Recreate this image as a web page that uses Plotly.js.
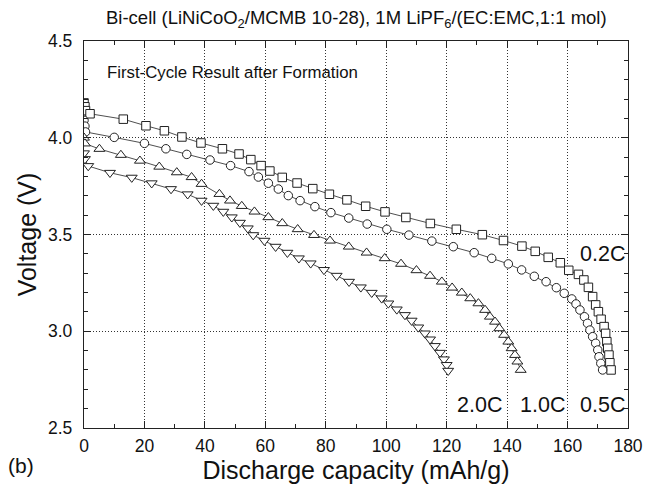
<!DOCTYPE html>
<html>
<head>
<meta charset="utf-8">
<script src="https://cdn.plot.ly/plotly-3.0.1.min.js"></script>
<style>html,body{margin:0;padding:0;background:#fff;}#chart{width:653px;height:490px;}</style>
</head>
<body>
<div id="chart"></div>
<script>
// 0.2C (squares)
const capA = [0, 0.3, 0.5, 2.0, 13.0, 20.5, 26.6, 32.4, 38.7, 45.8, 51.3, 55.2, 58.6, 61.5, 65.6, 70.5, 75.7, 81.2, 87.0, 93.2, 99.6, 106.5, 114.6, 123.2, 131.8, 138.8, 144.9, 149.3, 153.6, 157.6, 160.4, 163.6, 165.4, 166.9, 168.3, 169.3, 170.2, 171.1, 172.1, 172.6, 173.0, 173.3, 173.7, 174.0, 174.4];
const voltA = [4.18, 4.16, 4.14, 4.124, 4.096, 4.062, 4.036, 4.004, 3.973, 3.943, 3.916, 3.887, 3.856, 3.828, 3.795, 3.766, 3.737, 3.708, 3.679, 3.646, 3.617, 3.588, 3.557, 3.527, 3.499, 3.469, 3.440, 3.413, 3.382, 3.354, 3.315, 3.294, 3.265, 3.227, 3.179, 3.136, 3.101, 3.062, 3.024, 2.989, 2.946, 2.912, 2.877, 2.837, 2.800];
// 0.5C (circles)
const capB = [0, 0.3, 0.5, 10.0, 20.0, 27.1, 34.0, 41.7, 48.5, 54.6, 57.7, 61.0, 64.3, 67.6, 71.5, 76.4, 81.7, 87.6, 93.7, 100.2, 107.5, 115.1, 122.2, 129.1, 134.9, 140.4, 144.8, 149.0, 152.9, 156.3, 158.9, 161.4, 162.8, 164.1, 165.6, 166.6, 167.4, 168.3, 169.3, 170.0, 170.4, 171.0, 171.6];
const voltB = [4.09, 4.06, 4.03, 4.002, 3.971, 3.943, 3.914, 3.885, 3.856, 3.825, 3.797, 3.765, 3.735, 3.701, 3.675, 3.644, 3.613, 3.585, 3.554, 3.527, 3.497, 3.466, 3.437, 3.406, 3.377, 3.348, 3.317, 3.284, 3.256, 3.225, 3.196, 3.167, 3.141, 3.110, 3.075, 3.041, 3.006, 2.972, 2.938, 2.903, 2.868, 2.834, 2.800];
// 1.0C (up triangles)
const capC = [0, 0.3, 5.1, 12.2, 18.5, 24.9, 30.7, 35.6, 38.9, 44.8, 48.3, 52.2, 56.4, 61.0, 65.6, 70.7, 76.1, 81.4, 87.6, 93.5, 99.5, 104.9, 110.0, 114.5, 118.4, 121.8, 125.0, 127.8, 130.5, 132.7, 134.3, 136.0, 137.4, 139.0, 140.4, 141.5, 142.6, 143.4, 144.5];
const voltC = [4.00, 3.97, 3.942, 3.911, 3.881, 3.850, 3.821, 3.796, 3.761, 3.709, 3.675, 3.647, 3.618, 3.589, 3.558, 3.527, 3.497, 3.468, 3.437, 3.406, 3.377, 3.348, 3.315, 3.286, 3.256, 3.225, 3.199, 3.170, 3.144, 3.110, 3.075, 3.049, 3.015, 2.981, 2.946, 2.912, 2.877, 2.843, 2.800];
// 2.0C (down triangles)
const capD = [0, 0.3, 1.4, 8.6, 15.8, 22.4, 28.8, 34.3, 38.9, 42.8, 46.1, 48.9, 51.6, 54.2, 56.0, 59.7, 63.4, 67.3, 71.1, 75.0, 79.4, 83.6, 87.7, 91.6, 95.2, 98.5, 100.7, 103.5, 106.2, 108.4, 110.6, 112.8, 114.5, 116.1, 117.8, 119.1, 120.0, 120.5];
const voltD = [3.92, 3.89, 3.854, 3.819, 3.794, 3.765, 3.735, 3.708, 3.675, 3.649, 3.618, 3.589, 3.561, 3.532, 3.497, 3.468, 3.437, 3.406, 3.377, 3.351, 3.317, 3.287, 3.256, 3.227, 3.199, 3.170, 3.144, 3.113, 3.084, 3.055, 3.020, 2.989, 2.958, 2.924, 2.889, 2.855, 2.826, 2.796];

const rateLabels = ['0.2C', '0.5C', '1.0C', '2.0C'];
const xTickVals = [0, 20, 40, 60, 80, 100, 120, 140, 160, 180];
const yTickVals = [2.5, 3.0, 3.5, 4.0, 4.5];

const FONT = 'Liberation Sans, Arial, Helvetica, sans-serif';

function tr(x, y, sym, size, name) {
  return {
    x: x, y: y, name: name, type: 'scatter', mode: 'lines+markers',
    line: {color: '#222', width: 0.8},
    marker: {symbol: sym, size: size, color: '#fff', line: {color: '#222', width: 1}},
    cliponaxis: true
  };
}

const data = [
  tr(capA, voltA, 'square', 8.5, rateLabels[0]),
  tr(capB, voltB, 'circle', 8.5, rateLabels[1]),
  tr(capC, voltC, 'triangle-up', 9.5, rateLabels[2]),
  tr(capD, voltD, 'triangle-down', 9.5, rateLabels[3])
];

const axisCommon = {
  ticks: 'inside', ticklen: 7, tickcolor: '#222', mirror: 'ticks',
  showline: true, linecolor: '#222', linewidth: 1.2,
  showgrid: true, gridcolor: '#333', griddash: '1px,2px', gridwidth: 1,
  zeroline: false,
  tickfont: {size: 17.5, family: FONT},
  automargin: false
};

const layout = {
  width: 653, height: 490,
  margin: {l: 84, r: 25, t: 41, b: 62},
  paper_bgcolor: '#fff', plot_bgcolor: '#fff',
  showlegend: false,
  font: {family: FONT, color: '#111', size: 17},
  xaxis: Object.assign({}, axisCommon, {
    range: [0, 180], tickvals: xTickVals, ticktext: xTickVals.map(String),
    ticklabelstandoff: 2,
    minor: {dtick: 10, ticks: 'inside', ticklen: 4, tickcolor: '#222', showgrid: false},
    title: {text: 'Discharge capacity (mAh/g)', font: {size: 25, family: FONT}, standoff: 2}
  }),
  yaxis: Object.assign({}, axisCommon, {
    range: [2.5, 4.5], tickvals: yTickVals, ticktext: yTickVals.map(v => v.toFixed(1)),
    ticklabelstandoff: 7,
    minor: {dtick: 0.1, ticks: 'inside', ticklen: 4, tickcolor: '#222', showgrid: false},
    title: {text: 'Voltage (V)', font: {size: 25, family: FONT}, standoff: 4}
  }),
  annotations: [
    {xref: 'paper', yref: 'paper', x: 0.5, y: 1, yshift: 22, xanchor: 'center', yanchor: 'middle',
     text: 'Bi-cell (LiNiCoO<sub>2</sub>/MCMB 10-28), 1M LiPF<sub>6</sub>/(EC:EMC,1:1 mol)',
     showarrow: false, font: {size: 18.5, family: FONT}},
    {xref: 'x', yref: 'y', x: 7, y: 4.335, xanchor: 'left', yanchor: 'middle',
     text: 'First-Cycle Result after Formation', showarrow: false, font: {size: 16.8, family: FONT}},
    {xref: 'x', yref: 'y', x: 163.3, y: 3.40, xanchor: 'left', yanchor: 'middle',
     text: rateLabels[0], showarrow: false, font: {size: 21.5, family: FONT}},
    {xref: 'x', yref: 'y', x: 163.3, y: 2.62, xanchor: 'left', yanchor: 'middle',
     text: rateLabels[1], showarrow: false, font: {size: 21.5, family: FONT}},
    {xref: 'x', yref: 'y', x: 143.6, y: 2.62, xanchor: 'left', yanchor: 'middle',
     text: rateLabels[2], showarrow: false, font: {size: 21.5, family: FONT}},
    {xref: 'x', yref: 'y', x: 122.9, y: 2.62, xanchor: 'left', yanchor: 'middle',
     text: rateLabels[3], showarrow: false, font: {size: 21.5, family: FONT}},
    {xref: 'paper', yref: 'paper', x: 0, xshift: -78, y: 0, yshift: -37, xanchor: 'left', yanchor: 'middle',
     text: '(b)', showarrow: false, font: {size: 21, family: FONT}}
  ]
};

Plotly.newPlot('chart', data, layout, {displayModeBar: false, staticPlot: true});
</script>
</body>
</html>
